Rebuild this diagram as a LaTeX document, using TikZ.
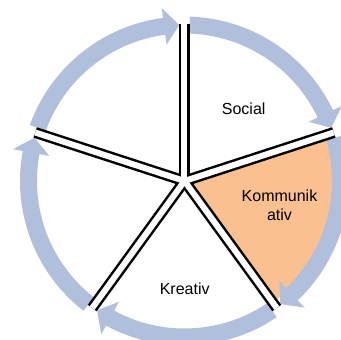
\documentclass[tikz,border=0pt]{standalone}
\usepackage{fontspec}
\setmainfont{Liberation Sans}
\usepackage{tikz}
\definecolor{bleu}{RGB}{176,192,220}
\definecolor{peche}{RGB}{250,192,143}
\def\rin{147.5}
\def\rout{164.5}
\def\rbas{137.5}
\def\rhaut{174.5}
\def\rayon{156}
\def\rtrait{157}
% fleche du cercle, de l'angle #1 vers #1-72 (sens horaire)
\newcommand{\fleche}[1]{%
	\fill[bleu] ({#1-1.9}:\rin) arc[start angle={#1-1.9}, end angle={#1-64.5}, radius=\rin]
		-- ({#1-64.5}:\rbas) -- ({#1-70.1}:\rayon) -- ({#1-64.5}:\rhaut)
		-- ({#1-64.5}:\rout) arc[start angle={#1-64.5}, end angle={#1-1.9}, radius=\rout] -- cycle;}

\begin{document}
\begin{tikzpicture}[x=1pt, y=1pt, font=\fontsize{16}{19}\selectfont]
	\clip (-184.5,-159) rectangle (156.5,181);
	%\draw[step=10pt, black!20!white] (-184.5,-159) grid (156.5,181);
	\fill[peche] (0,0) -- (18:150) arc[start angle=18, end angle=-54, radius=150] -- cycle;
	\fleche{162}
	\fleche{90}
	\fleche{18}
	\fleche{-54}
	\fleche{-126}
	\foreach \a in {90,18,-54,-126,162}
		\draw[line width=11pt] (0,0) -- (\a:\rtrait);
	\foreach \a in {90,18,-54,-126,162}
		\draw[line width=6pt, white] (0,0) -- (\a:\rtrait);
	\node[anchor=base] (social) at (59.2,66.5) {Social};
	\node[align=center] (komm) at (95,-24.5) {Kommunik\\ativ};
	\node[anchor=base] (kreativ) at (0.2,-114) {Kreativ};
\end{tikzpicture}
\end{document}
